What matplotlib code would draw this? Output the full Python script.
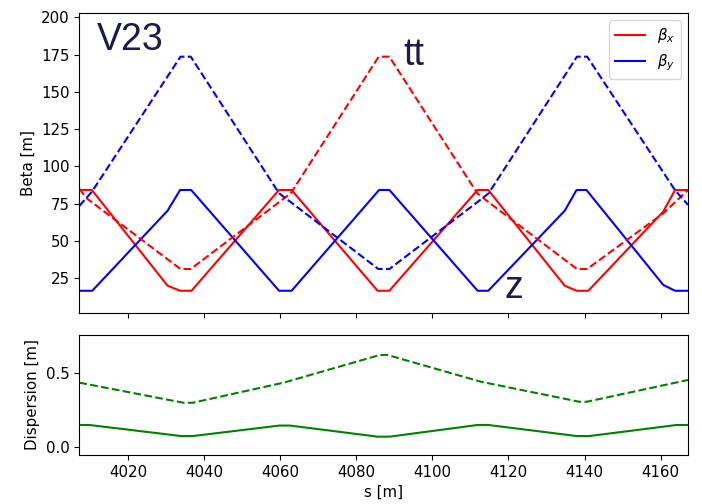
import matplotlib
matplotlib.use("Agg")
import matplotlib.pyplot as plt

# ---- optics data (piecewise-linear breakpoints) ----
# "z" optics (solid)
s_bx_z = [4007.2, 4010.5, 4030.4, 4033.7, 4036.7, 4059.7, 4063.0, 4085.6, 4088.7,
          4111.9, 4114.7, 4134.8, 4137.9, 4141.0, 4160.7, 4163.8, 4167.2]
bx_z = [84.2, 84.2, 20.0, 16.6, 16.6, 84.2, 84.2, 16.6, 16.6,
        84.2, 84.2, 20.0, 16.6, 16.6, 69.7, 84.2, 84.2]

s_by_z = [4007.2, 4010.6, 4030.4, 4033.7, 4036.6, 4059.7, 4063.0, 4086.0, 4088.7,
          4111.9, 4114.7, 4134.8, 4137.9, 4140.5, 4160.7, 4163.8, 4167.2]
by_z = [16.6, 16.6, 70.3, 84.2, 84.2, 16.6, 16.6, 84.2, 84.2,
        16.6, 16.6, 70.3, 84.2, 84.2, 20.5, 16.6, 16.6]

# "tt" optics (dashed)
s_bx_tt = [4007.2, 4009.2, 4033.8, 4036.5, 4059.7, 4062.8, 4085.9, 4088.7,
           4111.8, 4114.8, 4138.0, 4140.7, 4160.7, 4167.2]
bx_tt = [85.0, 78.5, 31.2, 31.2, 76.0, 82.0, 173.6, 173.6,
         82.0, 76.0, 31.2, 31.2, 68.5, 84.2]

s_by_tt = [4007.2, 4010.5, 4033.8, 4036.5, 4059.7, 4062.8, 4085.8, 4088.7,
           4111.8, 4114.8, 4138.0, 4140.7, 4163.8, 4167.2]
by_tt = [73.5, 83.0, 173.6, 173.6, 82.0, 76.0, 31.2, 31.2,
         76.0, 82.0, 173.6, 173.6, 84.0, 74.2]

# dispersion
s_dx_z = [4007.2, 4009.8, 4034.0, 4037.0, 4059.8, 4062.6, 4085.6, 4088.8,
          4111.9, 4114.7, 4138.0, 4141.2, 4164.2, 4167.2]
dx_z = [0.151, 0.151, 0.076, 0.076, 0.147, 0.147, 0.072, 0.072,
        0.151, 0.151, 0.076, 0.076, 0.151, 0.151]

s_dx_tt = [4007.2, 4034.6, 4037.0, 4060.9, 4086.2, 4088.2, 4112.8, 4138.6, 4140.6, 4167.2]
dx_tt = [0.437, 0.301, 0.301, 0.437, 0.624, 0.624, 0.443, 0.308, 0.308, 0.455]

beta_ticks = [25, 50, 75, 100, 125, 150, 175, 200]
disp_ticks = [0.0, 0.5]
s_ticks = [4020, 4040, 4060, 4080, 4100, 4120, 4140, 4160]

FS = 10.8
plt.rcParams["font.size"] = FS

fig = plt.figure(figsize=(7.02, 5.04), dpi=100)
ax1 = fig.add_axes([0.1130, 0.3796, 0.8671, 0.5952])
ax2 = fig.add_axes([0.1130, 0.0972, 0.8671, 0.2387], sharex=ax1)

ax1.plot(s_bx_z, bx_z, color="red", lw=1.5, label=r"$\beta_x$")
ax1.plot(s_by_z, by_z, color="blue", lw=1.5, label=r"$\beta_y$")
ax1.plot(s_bx_tt, bx_tt, color="red", lw=1.5, ls="--")
ax1.plot(s_by_tt, by_tt, color="blue", lw=1.5, ls="--")

ax1.set_ylim(1.9, 203.1)
ax1.set_yticks(beta_ticks)
ax1.set_ylabel("Beta [m]")
ax1.tick_params(labelbottom=False)
ax1.legend(loc="upper right", fontsize=FS)

txt_color = "#1b1b4d"
big = dict(fontsize=27, color=txt_color, family="Liberation Sans",
           ha="left", va="baseline")
ax1.text(4011.9, 178.0, "V23", **big)
ax1.text(4092.3, 168.0, "tt", **big)
ax1.text(4119.0, 11.8, "z", **big)

ax2.plot(s_dx_z, dx_z, color="green", lw=1.5)
ax2.plot(s_dx_tt, dx_tt, color="green", lw=1.5, ls="--")
ax2.set_ylim(-0.052, 0.761)
ax2.set_yticks(disp_ticks)
ax2.set_ylabel("Dispersion [m]")
ax2.set_xlabel("s [m]")
ax2.set_xticks(s_ticks)
ax2.set_xlim(4007.2, 4167.2)

fig.savefig("out.png", dpi=100)
